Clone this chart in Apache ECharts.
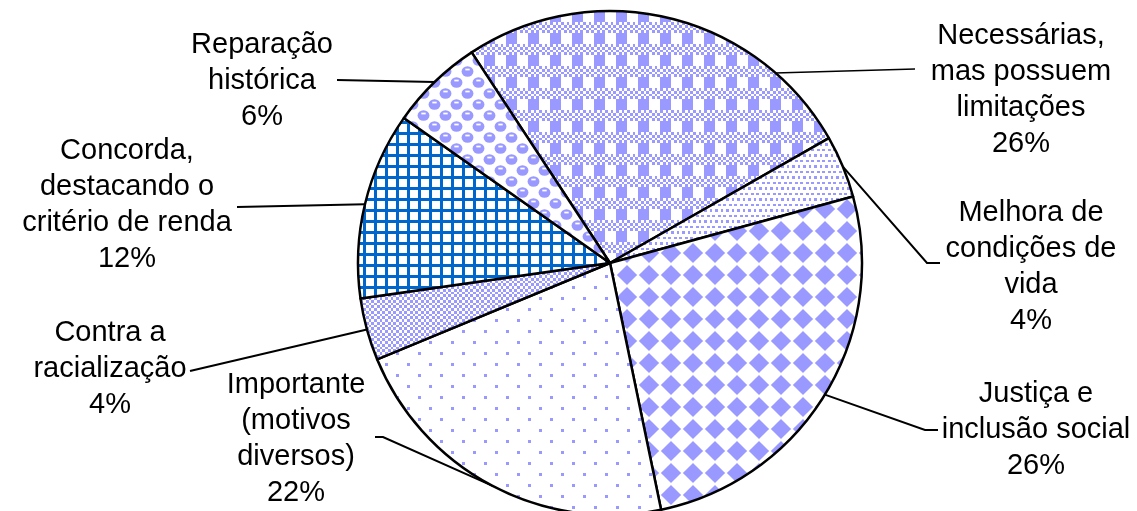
<!DOCTYPE html>
<html>
<head>
<meta charset="utf-8">
<script src="https://cdn.jsdelivr.net/npm/echarts@6/dist/echarts.min.js"></script>
<style>
  html, body { margin: 0; padding: 0; background: #ffffff; }
  #chart { width: 1137px; height: 511px; }
</style>
</head>
<body>
<div id="chart"></div>
<script>
// Slice names (line breaks as printed) and their shares in percent
const categories = [
  'Necessárias,\nmas possuem\nlimitações',
  'Melhora de\ncondições de\nvida',
  'Justiça e\ninclusão social',
  'Importante\n(motivos\ndiversos)',
  'Contra a\nracialização',
  'Concorda,\ndestacando o\ncritério de renda',
  'Reparação\nhistórica'
];
const shares = [26, 4, 26, 22, 4, 12, 6];

// 8x8 fill patterns, one per slice ('X' = ink); 'diamond' and 'sphere' are drawn as shapes
const patternBits = [
  // plaid
  ['X.X.X.X.', '.X.X.X.X', 'X.X.X.X.', '.X.X.X.X', 'XXXX....', 'XXXX....', 'XXXX....', 'XXXX....'],
  // small dots
  ['X.X.X.X.', '........', '.X.X.X.X', '........', 'X.X.X.X.', '........', '.X.X.X.X', '........'],
  'diamond',
  // 5 percent
  ['X.......', '........', '........', '........', '....X...', '........', '........', '........'],
  // 50 percent
  ['X.X.X.X.', '.X.X.X.X', 'X.X.X.X.', '.X.X.X.X', 'X.X.X.X.', '.X.X.X.X', 'X.X.X.X.', '.X.X.X.X'],
  // small grid
  ['XXXXXXXX', 'X...X...', 'X...X...', 'X...X...', 'XXXXXXXX', 'X...X...', 'X...X...', 'X...X...'],
  'sphere'
];
const patternInk = ['#9999ff', '#9999ff', '#9999ff', '#9999ff', '#9999ff', '#0066cc', '#9999ff'];

// Label block centres and leader-line points
const labelSpots = [
  { x: 1021, y: 90, from: [775, 73], end: [915, 69], width: 1.3 },
  { x: 1031, y: 267, bend: [927, 263], end: [940, 263], width: 2 },
  { x: 1036, y: 430, bend: [925, 430], end: [938, 430], width: 2 },
  { x: 296, y: 439, bend: [383, 437], end: [375, 437], width: 2 },
  { x: 110, y: 369, end: [190, 371], width: 2 },
  { x: 127, y: 205, end: [237, 207], width: 2 },
  { x: 262, y: 81, end: [337, 80], width: 2 }
];

const PIE_CENTER = [610, 263];
const PIE_RADIUS = 252;
const START_ANGLE = 123.3; // degrees, counter-clockwise from 3 o'clock

function drawTile(ctx, bits, ink, ox, oy, size, cell) {
  ctx.fillStyle = ink;
  if (bits === 'diamond') {
    const cx = ox + size / 2, cy = oy + size / 2, h = size * 0.46;
    ctx.beginPath();
    ctx.moveTo(cx, cy - h);
    ctx.lineTo(cx + h, cy);
    ctx.lineTo(cx, cy + h);
    ctx.lineTo(cx - h, cy);
    ctx.closePath();
    ctx.fill();
    return;
  }
  if (bits === 'sphere') {
    [[0.25, 0.25], [0.75, 0.75]].forEach(p => {
      const cx = ox + p[0] * size, cy = oy + p[1] * size;
      ctx.fillStyle = ink;
      ctx.beginPath();
      ctx.ellipse(cx, cy, size * 0.27, size * 0.235, 0, 0, Math.PI * 2);
      ctx.fill();
      ctx.fillStyle = '#ffffff';
      ctx.fillRect(cx - size * 0.1, cy - size * 0.13, size * 0.2, size * 0.08);
    });
    return;
  }
  for (let r = 0; r < 8; r++) {
    for (let c = 0; c < 8; c++) {
      if (bits[r][c] !== 'X') continue;
      const x0 = Math.round(ox + c * cell), x1 = Math.round(ox + (c + 1) * cell);
      const y0 = Math.round(oy + r * cell), y1 = Math.round(oy + (r + 1) * cell);
      ctx.fillRect(x0, y0, x1 - x0, y1 - y0);
    }
  }
}

function makePattern(bits, ink) {
  const cell = 2.75;
  const size = Math.round(8 * cell);
  const big = document.createElement('canvas');
  big.width = big.height = size * 3;
  const bctx = big.getContext('2d');
  bctx.fillStyle = '#ffffff';
  bctx.fillRect(0, 0, big.width, big.height);
  for (let ty = 0; ty < 3; ty++) {
    for (let tx = 0; tx < 3; tx++) {
      drawTile(bctx, bits, ink, tx * size, ty * size, size, cell);
    }
  }
  const soft = document.createElement('canvas');
  soft.width = soft.height = size * 3;
  const sctx = soft.getContext('2d');
  sctx.filter = 'blur(0.6px)';
  sctx.drawImage(big, 0, 0);
  const tile = document.createElement('canvas');
  tile.width = tile.height = size;
  tile.getContext('2d').drawImage(soft, size, size, size, size, 0, 0, size, size);
  return tile;
}

// Edge point at the middle of each slice
const total = shares.reduce((a, b) => a + b, 0);
const midPoints = [];
let acc = 0;
shares.forEach(v => {
  const midDeg = START_ANGLE - (acc + v / 2) / total * 360;
  const rad = midDeg * Math.PI / 180;
  midPoints.push([PIE_CENTER[0] + PIE_RADIUS * Math.cos(rad), PIE_CENTER[1] - PIE_RADIUS * Math.sin(rad)]);
  acc += v;
});

const chart = echarts.init(document.getElementById('chart'), null, { renderer: 'canvas' });

const seriesData = categories.map((name, i) => ({
  name: name,
  value: shares[i],
  itemStyle: { color: { image: makePattern(patternBits[i], patternInk[i]), repeat: 'repeat' } },
  labelLine: { lineStyle: { width: labelSpots[i].width } }
}));

chart.setOption({
  animation: false,
  backgroundColor: '#ffffff',
  series: [{
    type: 'pie',
    center: PIE_CENTER,
    radius: PIE_RADIUS,
    startAngle: START_ANGLE,
    clockwise: true,
    avoidLabelOverlap: false,
    silent: true,
    data: seriesData,
    itemStyle: { borderColor: '#000000', borderWidth: 2.5 },
    emphasis: { disabled: true },
    label: {
      show: true,
      formatter: '{b}\n{c}%',
      fontFamily: '"Liberation Sans", Arial, sans-serif',
      fontSize: 29,
      lineHeight: 36,
      color: '#000000',
      align: 'center'
    },
    labelLine: {
      show: true,
      smooth: false,
      length: 10,
      length2: 10,
      lineStyle: { color: '#000000', width: 2 }
    },
    labelLayout: function (params) {
      const s = labelSpots[params.dataIndex];
      const start = s.from || midPoints[params.dataIndex];
      const mid = s.bend || s.end;
      return {
        x: s.x,
        y: s.y,
        align: 'center',
        verticalAlign: 'middle',
        labelLinePoints: [start, mid, s.end]
      };
    }
  }]
});
</script>
</body>
</html>
